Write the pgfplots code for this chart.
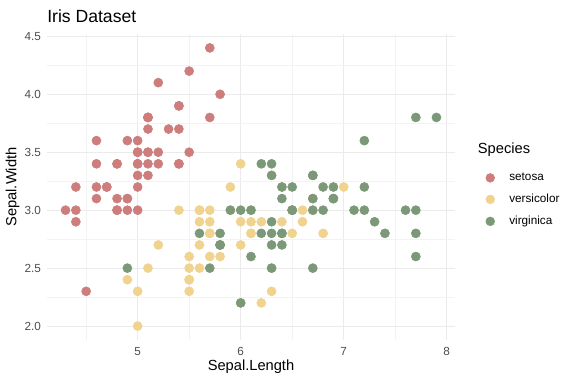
\documentclass[border=0pt]{standalone}
\usepackage{fontspec}
\setmainfont{Liberation Sans}
\usepackage{pgfplots}
\pgfplotsset{compat=1.18}
\definecolor{cset}{HTML}{CD7E7C}
\definecolor{cver}{HTML}{EFD38E}
\definecolor{cvir}{HTML}{7B9878}
\definecolor{gmaj}{HTML}{EBEBEB}
\definecolor{gmin}{HTML}{F3F3F3}
\definecolor{tickc}{HTML}{4D4D4D}
\begin{document}
\begin{tikzpicture}
\begin{axis}[
  scale only axis, width=306pt, height=229.5pt,
  xmin=4.12, xmax=8.08, ymin=1.88, ymax=4.52,
  clip mode=individual,
  axis line style={draw=none},
  tick style={draw=none},
  xtick={5,6,7,8}, ytick={2,2.5,3,3.5,4,4.5},
  minor xtick={4.5,5.5,6.5,7.5}, minor ytick={2.25,2.75,3.25,3.75,4.25},
  grid=both,
  major grid style={gmaj, line width=0.8pt},
  minor grid style={gmin, line width=0.5pt},
  /pgf/number format/assume math mode=true,
  yticklabel style={/pgf/number format/fixed, /pgf/number format/fixed zerofill, /pgf/number format/precision=1},
  ticklabel style={font=\fontsize{8.8}{10}\selectfont, text=tickc},
  xticklabel style={yshift=-2pt},
  yticklabel style={xshift=-1pt},
  xlabel={Sepal.Length}, ylabel={Sepal.Width},
  label style={font=\fontsize{11}{13}\selectfont},
  xlabel style={yshift=4pt},
  ylabel style={yshift=-3pt},
  legend style={at={(1.075,0.555)}, anchor=north west, draw=none, fill=none,
    font=\fontsize{8.8}{10}\selectfont, row sep=4.6pt, inner sep=0pt,
    /tikz/every odd column/.append style={column sep=9pt}},
  legend cell align=left,
  legend image code/.code={\draw[#1, mark size=3.3pt] plot coordinates {(0.15cm,0cm)};},
  every axis plot/.append style={only marks, mark=*, mark size=3.4pt},
]
\addplot[cset, mark options={draw=none, fill=cset}] coordinates {
(5.1,3.5)(4.9,3.0)(4.7,3.2)(4.6,3.1)(5.0,3.6)(5.4,3.9)(4.6,3.4)(5.0,3.4)(4.4,2.9)(4.9,3.1)
(5.4,3.7)(4.8,3.4)(4.8,3.0)(4.3,3.0)(5.8,4.0)(5.7,4.4)(5.4,3.9)(5.1,3.5)(5.7,3.8)(5.1,3.8)
(5.4,3.4)(5.1,3.7)(4.6,3.6)(5.1,3.3)(4.8,3.4)(5.0,3.0)(5.0,3.4)(5.2,3.5)(5.2,3.4)(4.7,3.2)
(4.8,3.1)(5.4,3.4)(5.2,4.1)(5.5,4.2)(4.9,3.1)(5.0,3.2)(5.5,3.5)(4.9,3.6)(4.4,3.0)(5.1,3.4)
(5.0,3.5)(4.5,2.3)(4.4,3.2)(5.0,3.5)(5.1,3.8)(4.8,3.0)(5.1,3.8)(4.6,3.2)(5.3,3.7)(5.0,3.3)};
\addlegendentry{setosa}
\addplot[cver, mark options={draw=none, fill=cver}] coordinates {
(7.0,3.2)(6.4,3.2)(6.9,3.1)(5.5,2.3)(6.5,2.8)(5.7,2.8)(6.3,3.3)(4.9,2.4)(6.6,2.9)(5.2,2.7)
(5.0,2.0)(5.9,3.0)(6.0,2.2)(6.1,2.9)(5.6,2.9)(6.7,3.1)(5.6,3.0)(5.8,2.7)(6.2,2.2)(5.6,2.5)
(5.9,3.2)(6.1,2.8)(6.3,2.5)(6.1,2.8)(6.4,2.9)(6.6,3.0)(6.8,2.8)(6.7,3.0)(6.0,2.9)(5.7,2.6)
(5.5,2.4)(5.5,2.4)(5.8,2.7)(6.0,2.7)(5.4,3.0)(6.0,3.4)(6.7,3.1)(6.3,2.3)(5.6,3.0)(5.5,2.5)
(5.5,2.6)(6.1,3.0)(5.8,2.6)(5.0,2.3)(5.6,2.7)(5.7,3.0)(5.7,2.9)(6.2,2.9)(5.1,2.5)(5.7,2.8)};
\addlegendentry{versicolor}
\addplot[cvir, mark options={draw=none, fill=cvir}] coordinates {
(6.3,3.3)(5.8,2.7)(7.1,3.0)(6.3,2.9)(6.5,3.0)(7.6,3.0)(4.9,2.5)(7.3,2.9)(6.7,2.5)(7.2,3.6)
(6.5,3.2)(6.4,2.7)(6.8,3.0)(5.7,2.5)(5.8,2.8)(6.4,3.2)(6.5,3.0)(7.7,3.8)(7.7,2.6)(6.0,2.2)
(6.9,3.2)(5.6,2.8)(7.7,2.8)(6.3,2.7)(6.7,3.3)(7.2,3.2)(6.2,2.8)(6.1,3.0)(6.4,2.8)(7.2,3.0)
(7.4,2.8)(7.9,3.8)(6.4,2.8)(6.3,2.8)(6.1,2.6)(7.7,3.0)(6.3,3.4)(6.4,3.1)(6.0,3.0)(6.9,3.1)
(6.7,3.1)(6.9,3.1)(5.8,2.7)(6.8,3.2)(6.7,3.3)(6.7,3.0)(6.3,2.5)(6.5,3.0)(6.2,3.4)(5.9,3.0)};
\addlegendentry{virginica}
\end{axis}
\node[anchor=base west, inner sep=0pt, font=\fontsize{13.2}{15}\selectfont] at (0pt,238pt) {Iris Dataset};
\node[anchor=base west, inner sep=0pt, font=\fontsize{11}{13}\selectfont] at (323pt,139.5pt) {Species};
\path (-35.25pt,-33pt) rectangle (396.75pt,255pt);
\end{tikzpicture}
\end{document}
